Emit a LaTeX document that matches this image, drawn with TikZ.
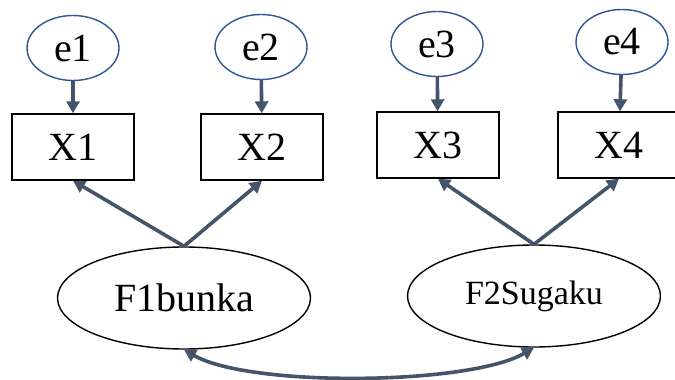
\documentclass[tikz,border=0pt]{standalone}
\usepackage{fontspec}
\setmainfont{Liberation Serif}
\usepackage{tikz}
\usetikzlibrary{arrows.meta,positioning,shapes.geometric}

\definecolor{pathgray}{HTML}{44546A}
\definecolor{errblue}{HTML}{2F5597}

\begin{document}
\begin{tikzpicture}[
  x=0.5pt, y=-0.5pt,
  font=\fontsize{20}{24}\selectfont,
  error/.style={draw=errblue, line width=0.7pt, ellipse, inner sep=0pt, minimum width=46pt, minimum height=32.5pt},
  observed/.style={draw, line width=0.7pt, rectangle, inner sep=0pt, minimum width=61pt, minimum height=33pt},
  latent/.style={draw, line width=0.7pt, ellipse, inner sep=0pt, minimum width=126.5pt, minimum height=51pt},
  arrow/.style={-{Triangle[length=6pt,width=6.5pt]}, line width=1.8pt, draw=pathgray, fill=pathgray}
]
\useasboundingbox (0,0) rectangle (675,380);

% observed variables
\node[observed] (x1) at (73,147) {X1};
\node[observed] (x2) at (262,147) {X2};
\node[observed] (x3) at (438,145) {X3};
\node[observed] (x4) at (619,145) {X4};

% error terms
\node[error] (e1) at (73,48) {e1};
\node[error] (e2) at (261,47) {e2};
\node[error] (e3) at (437,44) {e3};
\node[error] (e4) at (622,42) {e4};

% latent factors
\node[latent] (f1) at (184,298) {F1bunka};
\node[latent, font=\fontsize{17}{20}\selectfont] (f2) at (534,296) {F2Sugaku};

\draw[arrow] (e1) -- (x1);
\draw[arrow] (e2) -- (x2);
\draw[arrow] (e3) -- (x3);
\draw[arrow] (e4) -- (x4);
\draw[arrow] (f1.north) -- (x1.south);
\draw[arrow] (f1.north) -- (x2.south);
\draw[arrow] (f2.north) -- (x3.south);
\draw[arrow] (f2.north) -- (x4.south);
\draw[arrow, {Triangle[length=6pt,width=6.5pt]}-{Triangle[length=6pt,width=6.5pt]}, fill=none]
  (f1.south) to[out=-30, in=-150, looseness=0.55] (f2.south);
\end{tikzpicture}
\end{document}
